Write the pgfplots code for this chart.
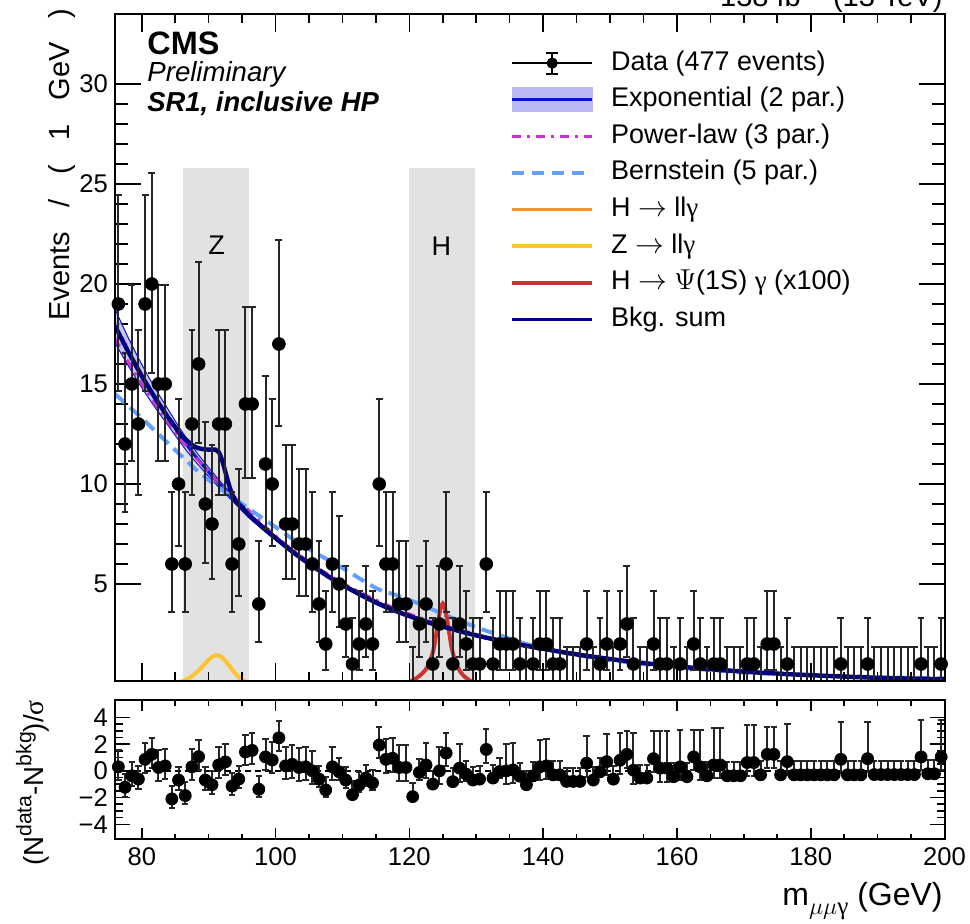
\documentclass[border=0pt]{standalone}
\usepackage{pgfplots}
\usepackage{pgfplotstable}
\pgfplotsset{compat=1.18}
\usepgfplotslibrary{fillbetween}
\usepackage{fontspec}
\setmainfont{Liberation Sans}
\newfontfamily\serif{Liberation Serif}

\definecolor{bkgnavy}{RGB}{0,0,128}
\definecolor{expblue}{RGB}{10,20,210}
\definecolor{bandfill}{RGB}{185,185,245}
\definecolor{plmag}{RGB}{204,51,204}
\definecolor{bernblue}{RGB}{100,160,255}
\definecolor{hllg}{RGB}{250,145,45}
\definecolor{zllg}{RGB}{252,196,48}
\definecolor{hpsi}{RGB}{204,51,51}
\definecolor{bandgray}{RGB}{226,226,226}

% data: nonzero bins (x, n, upper err, lower err)
\pgfplotstableread{
x y ep em
76.5 19 5.435 4.334
77.5 12 4.559 3.416
78.5 15 4.959 3.835
79.5 13 4.697 3.561
80.5 19 5.435 4.334
81.5 20 5.546 4.449
82.5 15 4.959 3.835
83.5 15 4.959 3.835
84.5 6 3.583 2.379
85.5 10 4.266 3.108
86.5 6 3.583 2.379
87.5 13 4.697 3.561
88.5 16 5.083 3.965
89.5 9 4.110 2.943
90.5 8 3.945 2.768
91.5 13 4.697 3.561
92.5 13 4.697 3.561
93.5 6 3.583 2.379
94.5 7 3.770 2.581
95.5 14 4.830 3.700
96.5 14 4.830 3.700
97.5 4 3.162 1.914
98.5 11 4.416 3.266
99.5 10 4.266 3.108
100.5 17 5.204 4.091
101.5 8 3.945 2.768
102.5 8 3.945 2.768
103.5 7 3.770 2.581
104.5 7 3.770 2.581
105.5 6 3.583 2.379
106.5 4 3.162 1.914
107.5 2 2.637 1.292
108.5 6 3.583 2.379
109.5 5 3.382 2.159
110.5 3 2.918 1.633
111.5 1 2.299 0.827
112.5 2 2.637 1.292
113.5 3 2.918 1.633
114.5 2 2.637 1.292
115.5 10 4.266 3.108
116.5 6 3.583 2.379
117.5 6 3.583 2.379
118.5 4 3.162 1.914
119.5 4 3.162 1.914
121.5 3 2.918 1.633
122.5 4 3.162 1.914
123.5 1 2.299 0.827
124.5 3 2.918 1.633
125.5 6 3.583 2.379
126.5 1 2.299 0.827
127.5 3 2.918 1.633
128.5 2 2.637 1.292
129.5 1 2.299 0.827
130.5 1 2.299 0.827
131.5 6 3.583 2.379
132.5 1 2.299 0.827
133.5 2 2.637 1.292
134.5 2 2.637 1.292
135.5 2 2.637 1.292
136.5 1 2.299 0.827
138.5 1 2.299 0.827
139.5 2 2.637 1.292
140.5 2 2.637 1.292
141.5 1 2.299 0.827
142.5 1 2.299 0.827
146.5 2 2.637 1.292
148.5 1 2.299 0.827
149.5 2 2.637 1.292
151.5 2 2.637 1.292
152.5 3 2.918 1.633
153.5 1 2.299 0.827
156.5 2 2.637 1.292
157.5 1 2.299 0.827
158.5 1 2.299 0.827
160.5 1 2.299 0.827
162.5 2 2.637 1.292
163.5 1 2.299 0.827
165.5 1 2.299 0.827
166.5 1 2.299 0.827
170.5 1 2.299 0.827
171.5 1 2.299 0.827
173.5 2 2.637 1.292
174.5 2 2.637 1.292
176.5 1 2.299 0.827
184.5 1 2.299 0.827
188.5 1 2.299 0.827
196.5 1 2.299 0.827
199.5 1 2.299 0.827
}\datanz

% empty bins (only upper error bar)
\pgfplotstableread{
x y ep
120.5 0 1.841
137.5 0 1.841
143.5 0 1.841
144.5 0 1.841
145.5 0 1.841
147.5 0 1.841
150.5 0 1.841
154.5 0 1.841
155.5 0 1.841
159.5 0 1.841
161.5 0 1.841
164.5 0 1.841
167.5 0 1.841
168.5 0 1.841
169.5 0 1.841
172.5 0 1.841
175.5 0 1.841
177.5 0 1.841
178.5 0 1.841
179.5 0 1.841
180.5 0 1.841
181.5 0 1.841
182.5 0 1.841
183.5 0 1.841
185.5 0 1.841
186.5 0 1.841
187.5 0 1.841
189.5 0 1.841
190.5 0 1.841
191.5 0 1.841
192.5 0 1.841
193.5 0 1.841
194.5 0 1.841
195.5 0 1.841
197.5 0 1.841
198.5 0 1.841
}\datazero

% pulls
\pgfplotstableread{
x p ep em
76.5 0.30 1.254 1
77.5 -1.23 1 0.749
78.5 -0.37 1 0.773
79.5 -0.62 1 0.758
80.5 0.86 1.254 1
81.5 1.23 1.247 1
82.5 0.25 1.293 1
83.5 0.37 1.293 1
84.5 -2.10 1 0.664
85.5 -0.69 1 0.729
86.5 -1.85 1 0.664
87.5 0.30 1.319 1
88.5 1.06 1.282 1
89.5 -0.69 1 0.716
90.5 -1.04 1 0.702
91.5 0.44 1.319 1
92.5 0.67 1.319 1
93.5 -1.14 1 0.664
94.5 -0.62 1 0.685
95.5 1.41 1.305 1
96.5 1.53 1.305 1
97.5 -1.38 1 0.605
98.5 1.04 1.352 1
99.5 0.81 1.373 1
100.5 2.47 1.272 1
101.5 0.37 1.425 1
102.5 0.49 1.425 1
103.5 0.25 1.461 1
104.5 0.30 1.461 1
105.5 0.00 1.506 1
106.5 -0.62 1 0.605
107.5 -1.43 1 0.490
108.5 0.30 1.506 1
109.5 -0.07 1 0.638
110.5 -0.69 1 0.560
111.5 -1.78 1 0.360
112.5 -1.06 1 0.490
113.5 -0.54 1 0.560
114.5 -0.91 1 0.490
115.5 1.93 1.373 1
116.5 0.86 1.506 1
117.5 0.94 1.506 1
118.5 0.25 1.652 1
119.5 0.25 1.652 1
120.5 -1.93 1 0
121.5 -0.12 1 0.560
122.5 0.44 1.652 1
123.5 -0.99 1 0.360
124.5 0.00 1.787 1
125.5 1.33 1.506 1
126.5 -0.81 1 0.360
127.5 0.20 1.787 1
128.5 -0.25 1 0.490
129.5 -0.69 1 0.360
130.5 -0.62 1 0.360
131.5 1.60 1.506 1
132.5 -0.54 1 0.360
133.5 -0.05 1 0.490
134.5 0.00 2.041 1
135.5 0.07 2.041 1
136.5 -0.40 1 0.360
137.5 -1.04 1 0
138.5 -0.37 1 0.360
139.5 0.30 2.041 1
140.5 0.37 2.041 1
141.5 -0.30 1 0.360
142.5 -0.30 1 0.360
143.5 -0.79 1 0
144.5 -0.79 1 0
145.5 -0.79 1 0
146.5 0.57 2.041 1
147.5 -0.69 1 0
148.5 -0.07 1 0.360
149.5 0.69 2.041 1
150.5 -0.62 1 0
151.5 0.79 2.041 1
152.5 1.23 1.787 1
153.5 0.05 2.780 1
154.5 -0.54 1 0
155.5 -0.54 1 0
156.5 0.91 2.041 1
157.5 0.20 2.780 1
158.5 0.20 2.780 1
159.5 -0.44 1 0
160.5 0.30 2.780 1
161.5 -0.44 1 0
162.5 1.04 2.041 1
163.5 0.30 2.780 1
164.5 -0.37 1 0
165.5 0.44 2.780 1
166.5 0.44 2.780 1
167.5 -0.37 1 0
168.5 -0.37 1 0
169.5 -0.37 1 0
170.5 0.62 2.780 1
171.5 0.62 2.780 1
172.5 -0.30 1 0
173.5 1.23 2.041 1
174.5 1.23 2.041 1
175.5 -0.30 1 0
176.5 0.69 2.780 1
177.5 -0.30 1 0
178.5 -0.30 1 0
179.5 -0.30 1 0
180.5 -0.30 1 0
181.5 -0.30 1 0
182.5 -0.30 1 0
183.5 -0.30 1 0
184.5 0.86 2.780 1
185.5 -0.30 1 0
186.5 -0.30 1 0
187.5 -0.30 1 0
188.5 0.91 2.780 1
189.5 -0.28 1 0
190.5 -0.28 1 0
191.5 -0.28 1 0
192.5 -0.28 1 0
193.5 -0.28 1 0
194.5 -0.28 1 0
195.5 -0.28 1 0
196.5 1.04 2.780 1
197.5 -0.22 1 0
198.5 -0.22 1 0
199.5 1.04 2.780 1
}\pulls

% background sum
\pgfplotstableread{
x y
76 17.9
77 17.25
78 16.6
79 16.0
80 15.4
81 14.85
82 14.3
83 13.8
84 13.3
85 12.85
86 12.4
87 12.1
88 11.85
89 11.75
90 11.72
91 11.72
91.5 11.6
92 11.2
92.5 10.6
93 10.0
93.5 9.5
94 9.2
94.5 9.0
95 8.85
96 8.45
97 8.15
98 7.85
100 7.3
102 6.75
104 6.25
106 5.8
108 5.35
110 4.95
112 4.6
114 4.25
116 3.93
118 3.65
120 3.4
122 3.17
124 2.96
126 2.78
128 2.6
130 2.43
132 2.28
134 2.14
136 2.0
140 1.76
145 1.48
150 1.25
155 1.05
160 0.88
165 0.74
170 0.62
175 0.52
180 0.44
185 0.37
190 0.31
195 0.27
200 0.24
}\bkgsum

\pgfplotstableread{
x y
76 17.9
78 16.6
80 15.4
82 14.3
84 13.3
86 12.3
88 11.4
90 10.6
92 9.85
94 9.15
96 8.45
98 7.85
100 7.3
102 6.75
104 6.25
106 5.8
108 5.35
110 4.95
114 4.25
118 3.65
122 3.17
126 2.78
130 2.43
136 2.0
145 1.48
155 1.05
165 0.74
175 0.52
185 0.37
200 0.24
}\expline

\pgfplotstableread{
x y
76 18.75
78 17.3
80 15.98
82 14.78
84 13.7
86 12.63
88 11.67
90 10.82
92 10.03
94 9.3
96 8.58
100 7.41
105 6.1
110 5.04
115 4.16
120 3.48
130 2.50
140 1.83
150 1.31
160 0.93
170 0.67
185 0.41
200 0.28
}\bandup

\pgfplotstableread{
x y
76 17.05
78 15.9
80 14.82
82 13.82
84 12.9
86 11.97
88 11.13
90 10.38
92 9.67
94 9.0
96 8.32
100 7.19
105 5.92
110 4.86
115 3.98
120 3.32
130 2.36
140 1.69
150 1.19
160 0.83
170 0.57
185 0.33
200 0.20
}\bandlo

\pgfplotstableread{
x y
76 17.25
78 16.1
80 15.0
82 14.0
85 12.6
88 11.35
90 10.6
92 9.9
95 9.0
100 7.4
105 6.1
110 5.05
115 4.2
120 3.5
125 2.95
130 2.48
135 2.1
140 1.79
150 1.27
160 0.9
170 0.64
180 0.46
190 0.33
200 0.24
}\powlaw

\pgfplotstableread{
x y
76 14.5
78 13.9
80 13.3
82 12.65
85 11.7
88 10.75
90 10.2
92 9.7
95 9.0
98 8.3
100 7.85
103 7.15
106 6.55
110 5.8
115 4.8
118 4.45
120 4.2
122 3.95
125 3.5
128 3.1
131 2.72
134 2.38
137 2.05
140 1.8
145 1.45
150 1.2
155 1.0
160 0.83
165 0.7
170 0.58
180 0.44
190 0.34
200 0.28
}\bern

\pgfplotstableread{
x y
84.3 0
85 0.05
86 0.13
87 0.28
88 0.52
89 0.85
90 1.2
90.6 1.38
91.2 1.44
91.8 1.38
92.4 1.2
93 0.95
94 0.52
95 0.22
96 0.07
96.6 0
}\zsig

\pgfplotstableread{
x y
120 0.1
121 0.28
122 0.55
122.7 0.85
123.2 1.25
123.7 1.85
124.1 2.7
124.5 3.5
124.8 3.93
125 4.02
125.2 3.93
125.5 3.5
125.9 2.7
126.3 1.85
126.8 1.2
127.3 0.8
128 0.45
129 0.18
129.7 0.05
}\hpsisig

\pgfplotsset{
  cmsbase/.style={
    scale only axis, width=414.75pt,
    xmin=76, xmax=200,
    axis line style={line width=1pt},
    tick style={line width=0.8pt, black},
    tick label style={font=\fontsize{12.8}{14}\selectfont},
    /pgf/number format/assume math mode=true,
    tick align=inside,
  },
}

\newcommand{\supr}[1]{\raisebox{0.42em}{\fontsize{10.6}{12}\selectfont #1}}

\begin{document}
\begin{tikzpicture}
% ---------------- top panel, data ----------------
\begin{axis}[cmsbase,
  at={(57.5pt,121pt)}, anchor=south west, height=333.5pt,
  ymin=0.15, ymax=33.5,
  ytick={5,10,15,20,25,30}, minor y tick num=4,
  major tick length=13pt, minor tick length=6.5pt,
  xtick=\empty, ytick pos=both,
  legend cell align=left,
  legend style={draw=none, fill=none, at={(0.4762,0.946)}, anchor=north west,
    font=\fontsize{13.5}{16}\selectfont, inner sep=0pt,
    nodes={inner sep=0pt, text height=9.8pt, text depth=2.9pt},
    row sep=5.6pt, column sep=8.5pt},
]
% mass windows
\addplot[fill=bandgray, draw=none, forget plot] coordinates {(86.2,0) (86.2,25.8) (96,25.8) (96,0)} -- cycle;
\addplot[fill=bandgray, draw=none, forget plot] coordinates {(120,0) (120,25.8) (129.8,25.8) (129.8,0)} -- cycle;
\node[font=\fontsize{13.5}{16}\selectfont] at (axis cs:91.2,21.95) {Z};
\node[font=\fontsize{13.5}{16}\selectfont] at (axis cs:124.8,21.9) {H};
% exponential band
\addplot[name path=bu, draw=none, smooth, forget plot] table[x=x,y=y] {\bandup};
\addplot[name path=bl, draw=none, smooth, forget plot] table[x=x,y=y] {\bandlo};
\addplot[bandfill, fill opacity=0.85, forget plot] fill between[of=bu and bl];
\addplot[expblue, line width=0.5pt, smooth, forget plot] table[x=x,y=y] {\bandup};
\addplot[expblue, line width=0.5pt, smooth, forget plot] table[x=x,y=y] {\bandlo};
\addplot[expblue, line width=1.6pt, smooth, forget plot] table[x=x,y=y] {\expline};
% other background functions
\addplot[plmag, line width=1.5pt, smooth, dash pattern=on 4.5pt off 3pt on 1.5pt off 3pt, forget plot] table[x=x,y=y] {\powlaw};
\addplot[bernblue, line width=2pt, smooth, dash pattern=on 6.5pt off 3.5pt, forget plot] table[x=x,y=y] {\bern};
% signals
\addplot[zllg, line width=2pt, smooth, forget plot] table[x=x,y=y] {\zsig};
\addplot[hpsi, line width=2pt, smooth, forget plot] table[x=x,y=y] {\hpsisig};
% background sum
\addplot[bkgnavy, line width=2.2pt, smooth, forget plot] table[x=x,y=y] {\bkgsum};
% data
\addplot[only marks, mark=none, forget plot,
  error bars/.cd, y dir=plus, y explicit,
  error bar style={line width=1pt, black!85},
  error mark options={line width=1pt, mark size=1.7pt, black!85, rotate=90}]
  table[x=x, y=y, y error plus=ep] {\datazero};
\addplot[only marks, mark=*, mark size=3.2pt, mark options={fill=black, draw=black}, forget plot,
  error bars/.cd, y dir=both, y explicit,
  error bar style={line width=1pt, black!85},
  error mark options={line width=1pt, mark size=1.7pt, black!85, rotate=90}]
  table[x=x, y=y, y error plus=ep, y error minus=em] {\datanz};
% legend
\addlegendimage{legend image code/.code={
  \draw[black, line width=0.7pt] (0pt,0pt) -- (40pt,0pt);
  \draw[black, line width=0.9pt] (20pt,-5.25pt) -- (20pt,5.25pt);
  \draw[black, line width=0.9pt] (17pt,-5.25pt) -- (23pt,-5.25pt) (17pt,5.25pt) -- (23pt,5.25pt);
  \fill[black] (20pt,0pt) circle (2.6pt);}}
\addlegendentry{Data (477 events)}
\addlegendimage{legend image code/.code={
  \fill[bandfill] (0pt,-6pt) rectangle (40pt,6pt);
  \draw[expblue, line width=1.6pt] (0pt,0pt) -- (40pt,0pt);}}
\addlegendentry{Exponential (2 par.)}
\addlegendimage{legend image code/.code={
  \draw[plmag, line width=1.5pt, dash pattern=on 4.5pt off 3pt on 1.5pt off 3pt] (0pt,0pt) -- (40pt,0pt);}}
\addlegendentry{Power-law (3 par.)}
\addlegendimage{legend image code/.code={
  \draw[bernblue, line width=1.8pt, dash pattern=on 6pt off 4pt] (0pt,0pt) -- (40pt,0pt);}}
\addlegendentry{Bernstein (5 par.)}
\addlegendimage{legend image code/.code={
  \draw[hllg, line width=1.8pt] (0pt,0pt) -- (40pt,0pt);}}
\addlegendentry{H $\rightarrow$ ll{\serif γ}}
\addlegendimage{legend image code/.code={
  \draw[zllg, line width=1.8pt] (0pt,0pt) -- (40pt,0pt);}}
\addlegendentry{Z $\rightarrow$ ll{\serif γ}}
\addlegendimage{legend image code/.code={
  \draw[hpsi, line width=1.8pt] (0pt,0pt) -- (40pt,0pt);}}
\addlegendentry{H $\rightarrow$ $\Psi$(1S) {\serif γ} (x100)}
\addlegendimage{legend image code/.code={
  \draw[bkgnavy, line width=1.8pt] (0pt,0pt) -- (40pt,0pt);}}
\addlegendentry{Bkg. sum}
\end{axis}
% top panel x ticks overlay
\begin{axis}[cmsbase,
  at={(57.5pt,121pt)}, anchor=south west, height=333.5pt,
  ymin=0.15, ymax=33.5, ytick=\empty,
  xtick={80,100,...,200}, minor x tick num=3, xticklabels={},
  major tick length=8.85pt, minor tick length=4.6pt, xtick pos=both,
]
\end{axis}
% ---------------- bottom panel ----------------
\begin{axis}[cmsbase,
  at={(57.5pt,42pt)}, anchor=south west, height=69.5pt,
  ymin=-5.1, ymax=5.3,
  ytick={-4,-2,0,2,4}, yticklabels={−4,−2,0,2,4}, minor y tick num=3,
  major tick length=7.5pt, minor tick length=3.75pt,
  xtick=\empty, ytick pos=both,
]
\addplot[black, line width=0.9pt, dash pattern=on 3pt off 2pt] coordinates {(76,0) (200,0)};
\addplot[only marks, mark=*, mark size=3pt, mark options={fill=black, draw=black},
  error bars/.cd, y dir=both, y explicit,
  error bar style={line width=1pt, black!85},
  error mark options={line width=1pt, mark size=1.6pt, black!85, rotate=90}]
  table[x=x, y=p, y error plus=ep, y error minus=em] {\pulls};
\end{axis}
\begin{axis}[cmsbase,
  at={(57.5pt,42pt)}, anchor=south west, height=69.5pt,
  ymin=-5.1, ymax=5.3, ytick=\empty,
  xtick={80,100,...,200}, minor x tick num=3,
  major tick length=5.5pt, minor tick length=2.75pt, xtick pos=both,
  xticklabel style={yshift=-1pt},
]
\end{axis}
% ---------------- texts ----------------
\node[anchor=base west, inner sep=0pt, font=\fontsize{16.2}{19}\selectfont\bfseries] at (73.5pt,434pt) {CMS};
\node[anchor=base west, inner sep=0pt, font=\fontsize{13.8}{16}\selectfont\itshape] at (73.5pt,420.6pt) {Preliminary};
\node[anchor=base west, inner sep=0pt, font=\fontsize{13.7}{16}\selectfont\bfseries\itshape] at (73.5pt,405.6pt) {SR1, inclusive HP};
\node[anchor=base east, inner sep=0pt, font=\fontsize{14.5}{16}\selectfont] at (471.5pt,458pt) {138 fb\textsuperscript{−1} (13 TeV)};
\node[rotate=90, anchor=east, inner sep=0pt, font=\fontsize{14.5}{16}\selectfont] at (31pt,457.5pt) {Events\hspace{0.84em}/\hspace{0.84em}(\hspace{0.84em}1\hspace{0.84em}GeV\hspace{0.84em})};
\node[rotate=90, anchor=base east, inner sep=0pt, font=\fontsize{13.8}{15}\selectfont] at (21.5pt,111.5pt) {(N\supr{data}-N\supr{bkg})/{\serif σ}};
\node[anchor=base east, inner sep=0pt, font=\fontsize{16}{18}\selectfont] at (471.5pt,9pt) {m\raisebox{-0.3em}{\fontsize{12.5}{14}\selectfont$\mu\mu${\serif γ}} (GeV)};
\pgfresetboundingbox
\useasboundingbox (0pt,0pt) rectangle (485pt,461.5pt);
\end{tikzpicture}
\end{document}
